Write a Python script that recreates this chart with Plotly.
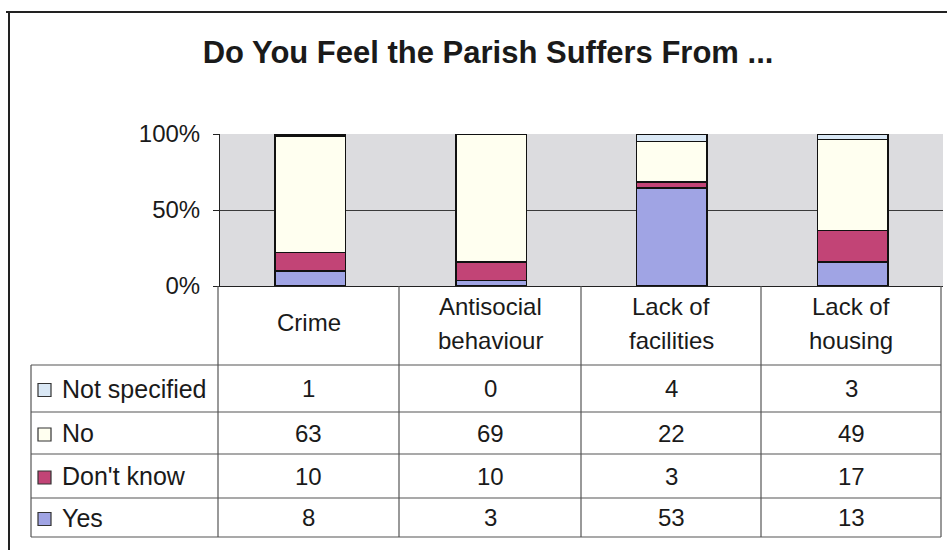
import plotly.graph_objects as go

categories = ["Crime", "Antisocial behaviour", "Lack of facilities", "Lack of housing"]
category_lines = [["Crime"], ["Antisocial", "behaviour"], ["Lack of", "facilities"], ["Lack of", "housing"]]
series_names = ["Not specified", "No", "Don't know", "Yes"]  # table order (top to bottom)
not_specified = [1, 0, 4, 3]
no = [63, 69, 22, 49]
dont_know = [10, 10, 3, 17]
yes = [8, 3, 53, 13]
title_text = "Do You Feel the Parish Suffers From ..."
y_ticks = [0, 50, 100]
y_tick_labels = ["0%", "50%", "100%"]

series_values = {"Not specified": not_specified, "No": no, "Don't know": dont_know, "Yes": yes}
colors = {"Yes": "#a0a4e4", "Don't know": "#c24476", "No": "#fffff0", "Not specified": "#dae8f5"}

W, H = 947, 550
# plot area in window pixels
PL, PR, PT, PB = 220, 943, 134, 286


def px(x):
    return (x - PL) / (PR - PL)


def py(y):
    return (PB - y) / (PB - PT)


fig = go.Figure()
for name in ["Yes", "Don't know", "No", "Not specified"]:
    fig.add_trace(go.Bar(
        x=categories, y=series_values[name], name=name,
        marker=dict(color=colors[name], line=dict(color="#111111", width=1.6)),
        width=0.39, showlegend=False,
    ))

FONT = "Liberation Sans, Arial, sans-serif"
TXT = "#1a1a1a"
fig.update_layout(
    width=W, height=H,
    margin=dict(l=PL, r=W - PR, t=PT, b=H - PB, pad=0),
    barmode="stack", barnorm="percent",
    paper_bgcolor="white", plot_bgcolor="#dcdcdf",
    font=dict(family=FONT, size=24, color=TXT),
    title=dict(text=title_text, x=px(488), xanchor="center", xref="paper",
               y=1 - 52 / H, yanchor="middle",
               font=dict(family=FONT, size=31, color=TXT, weight="bold")),
    xaxis=dict(showticklabels=False, showgrid=False, ticks="", showline=True,
               linecolor="#222222", linewidth=1, range=[-0.5, 3.5], fixedrange=True),
    yaxis=dict(range=[0, 100], tickvals=y_ticks, ticktext=y_tick_labels, showgrid=True,
               gridcolor="#3a3a3a", gridwidth=1, ticks="outside", ticklen=6, tickcolor="#222222",
               showline=True, linecolor="#222222", linewidth=1, zeroline=False,
               ticklabelstandoff=8, tickfont=dict(size=24, color=TXT)),
)

shapes = []
LC = "#555555"
# outer frame
shapes.append(dict(type="line", xref="paper", yref="paper", x0=px(6), x1=px(947), y0=py(12), y1=py(12),
                   line=dict(color="#222222", width=2)))
shapes.append(dict(type="line", xref="paper", yref="paper", x0=px(9), x1=px(9), y0=py(12), y1=py(550),
                   line=dict(color="#222222", width=2)))
# table vertical lines
col_edges = [218, 399, 581, 761, 941]
for cx in col_edges:
    shapes.append(dict(type="line", xref="paper", yref="paper", x0=px(cx), x1=px(cx), y0=py(286), y1=py(537),
                       line=dict(color=LC, width=1.2)))
shapes.append(dict(type="line", xref="paper", yref="paper", x0=px(31), x1=px(31), y0=py(365), y1=py(537),
                   line=dict(color=LC, width=1.2)))
# table horizontal lines
row_edges = [365, 412, 454, 498, 537]
for ry in row_edges:
    shapes.append(dict(type="line", xref="paper", yref="paper", x0=px(31), x1=px(941), y0=py(ry), y1=py(ry),
                       line=dict(color=LC, width=1.2)))

annotations = []
col_centers = [(col_edges[i] + col_edges[i + 1]) / 2 for i in range(4)]
for lines, cx in zip(category_lines, col_centers):
    ys = [322] if len(lines) == 1 else [306, 340]
    for t, yy in zip(lines, ys):
        annotations.append(dict(text=t, xref="paper", yref="paper", x=px(cx), y=py(yy),
                                xanchor="center", yanchor="middle", showarrow=False,
                                font=dict(size=24, color=TXT)))

for r, name in enumerate(series_names):
    top, bot = row_edges[r], row_edges[r + 1]
    cy = (top + bot) / 2
    # legend key square
    shapes.append(dict(type="rect", xref="paper", yref="paper", x0=px(38), x1=px(51),
                       y0=py(cy - 5), y1=py(cy + 8), fillcolor=colors[name],
                       line=dict(color="#333333", width=1.2)))
    annotations.append(dict(text=name, xref="paper", yref="paper", x=px(60), y=py(cy),
                            xanchor="left", yanchor="middle", showarrow=False,
                            font=dict(size=25, color=TXT)))
    for c, cx in enumerate(col_centers):
        annotations.append(dict(text=str(series_values[name][c]), xref="paper", yref="paper",
                                x=px(cx), y=py(cy), xanchor="center", yanchor="middle",
                                showarrow=False, font=dict(size=24, color=TXT)))

fig.update_layout(shapes=shapes, annotations=annotations)
fig.write_html("out.html", config={"displayModeBar": False},
               post_script="document.body.style.margin='0';document.body.style.overflow='hidden';")
